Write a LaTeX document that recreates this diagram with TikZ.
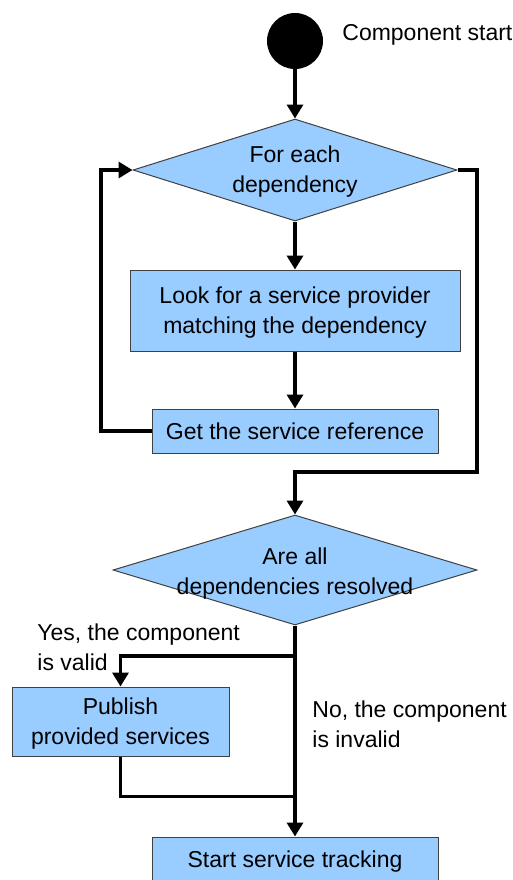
\documentclass[tikz,border=0pt]{standalone}
\usepackage{fontspec}
\setmainfont{Liberation Sans}
\usepackage{tikz}
\usetikzlibrary{
    arrows.meta,
    shapes.geometric
}
\definecolor{boxblue}{RGB}{153,204,255}

\begin{document}
\begin{tikzpicture}[
    x=0.5pt,y=-0.5pt,
    font=\fontsize{11.5}{15}\selectfont,
    step box/.style={rectangle,draw=black!75,fill=boxblue,line width=0.5pt,align=center,inner sep=0pt,text depth=0pt},
    decision/.style={diamond,draw=black!75,fill=boxblue,line width=0.5pt,inner sep=0pt},
    start dot/.style={circle,fill=black,minimum size=28pt,inner sep=0pt},
    flow/.style={line width=1.7pt,-{Triangle[length=7pt,width=8pt]}},
    plain flow/.style={line width=1.5pt}
]
    \useasboundingbox (0,0) rectangle (513,880);

    % Start of the component life cycle.
    \node[start dot] (start) at (295,41) {};
    \node[anchor=west,inner sep=0pt] (start label) at (342,35) {Component start};

    % Loop over the dependencies.
    \node[decision,minimum width=162pt,minimum height=51pt] (each) at (295,170) {};
    \node[align=center,inner sep=0pt] (each text) at (295,172) {For each\\dependency};

    \node[step box,minimum width=165pt,minimum height=40.5pt] (look) at (295,310.5)
        {Look for a service provider\\matching the dependency};
    \node[step box,minimum width=143pt,minimum height=22pt] (get) at (295,431)
        {Get the service reference};

    % Check of the dependencies.
    \node[decision,minimum width=182pt,minimum height=55pt] (resolved) at (295,570) {};
    \node[align=center,inner sep=0pt] (resolved text) at (295,574) {Are all\\dependencies resolved};

    \node[step box,minimum width=108.5pt,minimum height=34.5pt] (publish) at (120.5,721.5)
        {Publish\\provided services};
    \node[step box,minimum width=143pt,minimum height=22pt] (track) at (295,859)
        {Start service tracking};

    \node[anchor=north west,align=left,inner sep=0pt] (yes label) at (37,623)
        {Yes, the component\\is valid};
    \node[anchor=north west,align=left,inner sep=0pt] (no label) at (312,700)
        {No, the component\\is invalid};

    % Bends of the connectors.
    \coordinate (loop back) at (101,170);
    \coordinate (loop out) at (477,472);
    \coordinate (split) at (295,656);
    \coordinate (join) at (295,796);

    \draw[flow] (start) -- (each.north);
    \draw[flow] (each.south) -- (look.north);
    \draw[flow] (look.south) -- (get.north);
    \draw[flow] (get.west) -| (loop back) -- (each.west);
    \draw[flow] (each.east) -| (loop out) -| (resolved.north);

    \draw[flow] (resolved.south) -- (track.north);
    \draw[flow] (split) -| (publish.north);
    \draw[plain flow] (publish.south) |- (join);
\end{tikzpicture}
\end{document}
